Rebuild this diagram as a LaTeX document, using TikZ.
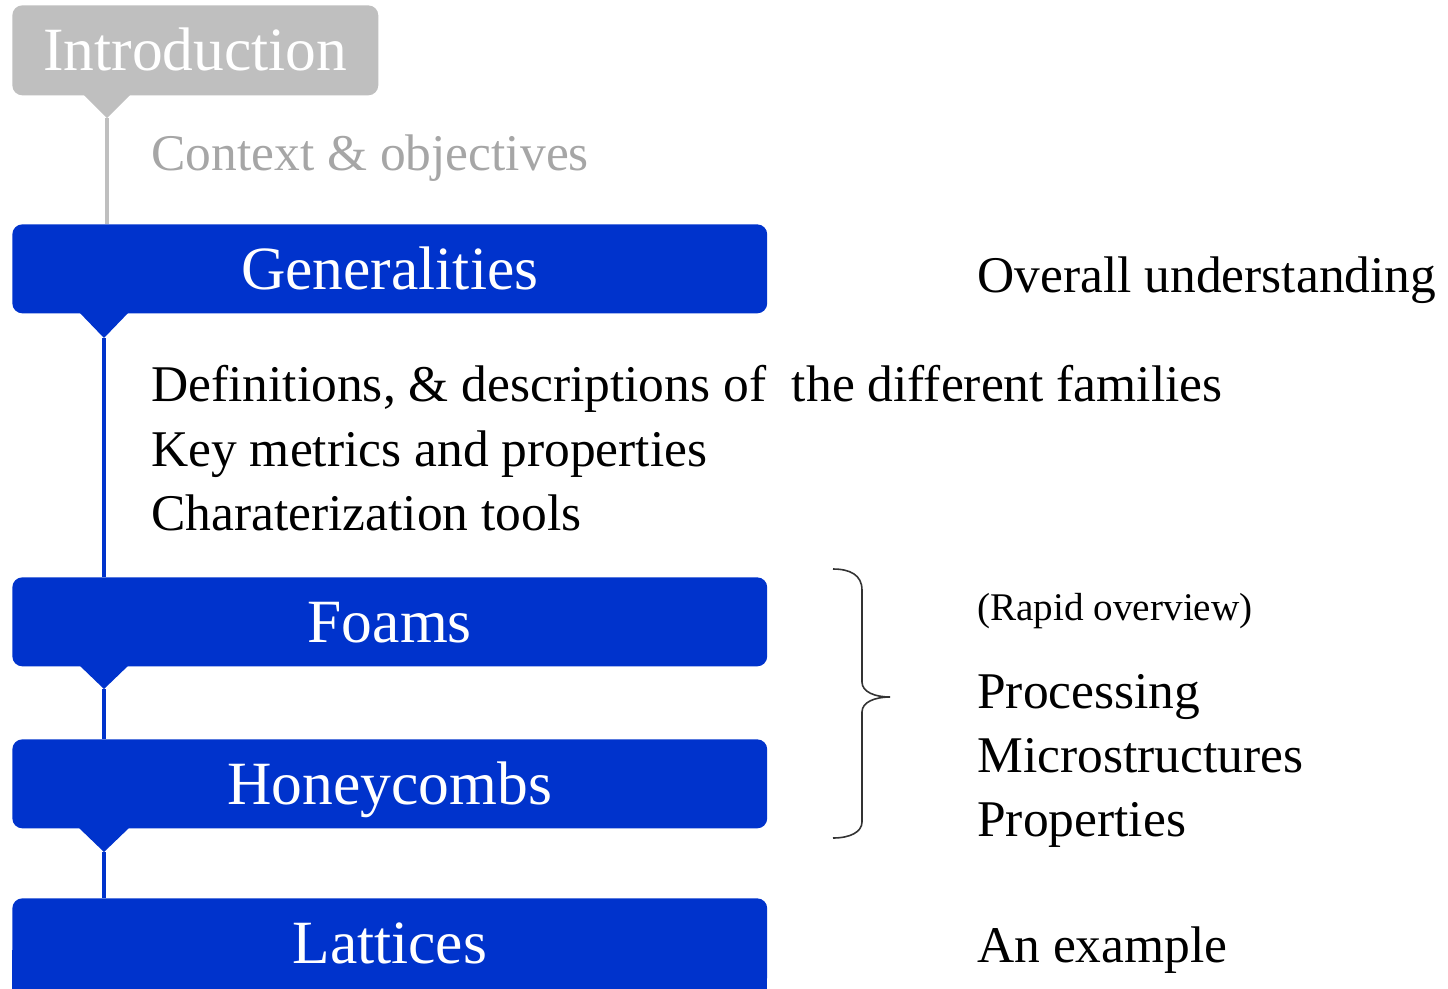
\documentclass[tikz,border=0pt]{standalone}
\usepackage{fontspec}
\setmainfont{Liberation Serif}
\definecolor{bblue}{RGB}{0,51,204}
\definecolor{bgray}{RGB}{191,191,191}
\definecolor{tgray}{RGB}{166,166,166}
\begin{document}
\begin{tikzpicture}[x=0.02cm,y=-0.02cm,
  head/.style={rounded corners=0.2cm, inner sep=0pt, anchor=north west,
    text=white, font=\fontsize{35}{40}\selectfont, text height=23pt, text depth=0pt},
  bluebox/.style={head, fill=bblue, minimum width=15.1cm, minimum height=1.78cm},
  graybox/.style={head, fill=bgray, minimum width=7.32cm, minimum height=1.8cm},
  body/.style={anchor=base west, inner sep=0pt, font=\fontsize{29.3}{34}\selectfont},
  small/.style={anchor=base west, inner sep=0pt, font=\fontsize{22.3}{26}\selectfont},
  bline/.style={draw=bblue, line width=2.5pt},
  gline/.style={draw=bgray, line width=2.3pt}]
\useasboundingbox (0,0) rectangle (1448,988);
\clip (0,0) rectangle (1448,988);

% extension of the last box below the page edge
\fill[bblue] (12,950) rectangle (767,1010);

% boxes
\node[graybox] (intro) at (12,5) {Introduction};
\node[bluebox] (gen) at (12,224) {Generalities};
\node[bluebox] (foams) at (12,577) {Foams};
\node[bluebox] (honey) at (12,739) {Honeycombs};
\node[bluebox] (latt) at (12,898) {Lattices};

% pointers
\coordinate (itip) at (107,118);
\coordinate (gtip) at (104,338);
\coordinate (ftip) at (104,689);
\coordinate (htip) at (104,852);
\fill[bgray] (82,93) -- (itip) -- (132,93) -- cycle;
\fill[bblue] (78,311) -- (gtip) -- (130,311) -- cycle;
\fill[bblue] (78,664) -- (ftip) -- (130,664) -- cycle;
\fill[bblue] (78,827) -- (htip) -- (130,827) -- cycle;

% connectors
\draw[gline] (itip) -- (itip |- gen.north);
\draw[bline] (gtip) -- (gtip |- foams.north);
\draw[bline] (ftip) -- (ftip |- honey.north);
\draw[bline] (htip) -- (htip |- latt.north);

% texts
\node[body, text=tgray] (ctx) at (151,170) {Context \& objectives};
\node[body] (ovr) at (977,292) {Overall understanding};
\node[body] (d1) at (151,401) {Definitions, \& descriptions of\ \ the different families};
\node[body] (d2) at (151,466) {Key metrics and properties};
\node[body] (d3) at (151,530) {Charaterization tools};
\node[small] (rap) at (977,620) {(Rapid overview)};
\node[body] (p1) at (977,708) {Processing};
\node[body] (p2) at (977,772) {Microstructures};
\node[body] (p3) at (977,836) {Properties};
\node[body] (ex) at (977,962) {An example};

% brace
\draw[line width=0.9pt, black!80] (833,569) .. controls (850,569) and (862,575) .. (862,590)
  -- (862,682) .. controls (862,692) and (875,697) .. (890,697)
  .. controls (875,697) and (862,702) .. (862,712)
  -- (862,822) .. controls (862,832) and (850,838) .. (833,838);
\end{tikzpicture}
\end{document}
